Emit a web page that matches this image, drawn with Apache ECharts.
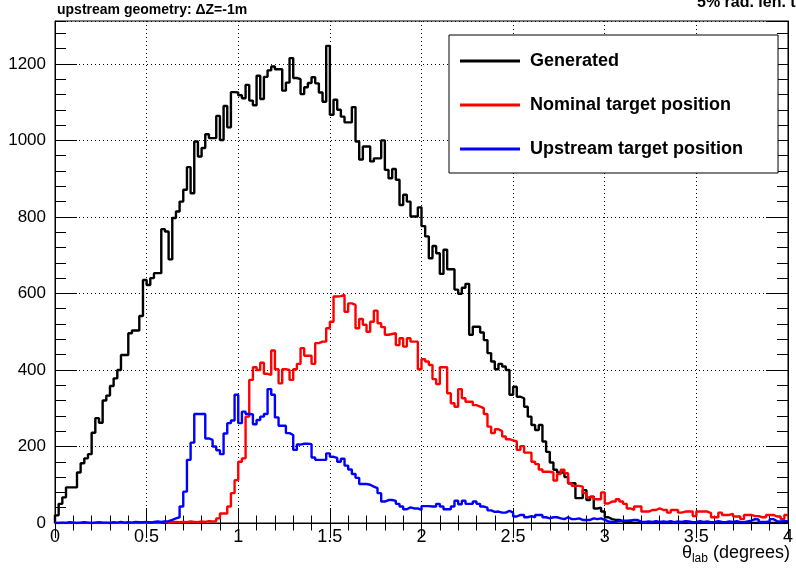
<!DOCTYPE html>
<html>
<head>
<meta charset="utf-8">
<script src="https://cdn.jsdelivr.net/npm/echarts@6/dist/echarts.min.js"></script>
<style>
  html, body { margin: 0; padding: 0; background: #fff; }
  #chart { width: 796px; height: 572px; }
</style>
</head>
<body>
<div id="chart"></div>
<script>
// Histogram binning: 200 bins of width 0.02 degrees over 0..4
const binWidth = 0.02;
const xMin = 0, xMax = 4;

const xTickLabels = ['0', '0.5', '1', '1.5', '2', '2.5', '3', '3.5', '4'];
const yTickLabels = ['0', '200', '400', '600', '800', '1000', '1200'];

const seriesNames = ['Generated', 'Nominal target position', 'Upstream target position'];

// Counts per bin
const generated = [
  20, 50, 67, 93, 93, 93, 132, 156, 169, 180,
  236, 274, 262, 320, 333, 358, 378, 400, 439, 439,
  496, 503, 503, 541, 635, 622, 640, 653, 653, 768,
  762, 689, 797, 814, 840, 871, 930, 862, 997, 958,
  980, 1016, 1006, 1006, 1064, 1001, 1090, 1034, 1126, 1125,
  1118, 1110, 1145, 1104, 1092, 1169, 1108, 1166, 1183, 1193,
  1186, 1186, 1130, 1151, 1215, 1163, 1160, 1121, 1139, 1150,
  1165, 1149, 1125, 1101, 1247, 1067, 1106, 1080, 1062, 1047,
  1047, 1087, 997, 950, 984, 984, 945, 953, 953, 1000,
  923, 901, 925, 897, 831, 858, 840, 801, 801, 825,
  776, 749, 692, 724, 705, 651, 714, 663, 663, 610,
  599, 615, 625, 492, 513, 513, 498, 478, 444, 422,
  402, 416, 409, 400, 335, 356, 330, 326, 304, 278,
  256, 243, 256, 213, 186, 158, 139, 132, 132, 120,
  104, 104, 65, 65, 86, 60, 69, 38, 40, 30,
  15, 10, 8, 8, 4, 3, 2, 0, 1, 0,
  0, 0, 0, 0, 0, 0, 0, 0, 0, 0,
  0, 0, 0, 0, 0, 0, 0, 0, 0, 0,
  0, 0, 0, 0, 0, 0, 0, 0, 0, 0,
  0, 0, 0, 0, 0, 0, 0, 0, 0, 0
];

const nominal = [
  0, 0, 0, 0, 0, 0, 0, 0, 0, 0,
  0, 0, 0, 0, 0, 0, 0, 0, 0, 0,
  0, 0, 0, 1, 0, 2, 1, 0, 2, 3,
  1, 2, 3, 2, 3, 2, 4, 3, 2, 4,
  3, 5, 4, 5, 12, 25, 25, 43, 78, 112,
  160, 169, 278, 374, 407, 400, 419, 390, 387, 451,
  402, 365, 402, 400, 374, 402, 416, 457, 437, 437,
  416, 470, 474, 474, 509, 526, 592, 593, 596, 552,
  574, 570, 509, 533, 518, 500, 526, 555, 522, 512,
  492, 494, 496, 465, 483, 461, 483, 474, 474, 402,
  428, 422, 413, 376, 363, 407, 407, 339, 313, 304,
  350, 326, 317, 317, 308, 304, 300, 285, 252, 235,
  245, 240, 226, 219, 216, 213, 191, 201, 184, 184,
  160, 154, 140, 134, 134, 132, 111, 128, 139, 130,
  104, 97, 97, 95, 78, 67, 69, 62, 62, 80,
  51, 56, 56, 62, 56, 50, 38, 34, 43, 43,
  30, 30, 34, 34, 38, 34, 34, 27, 34, 34,
  27, 30, 30, 30, 18, 30, 30, 30, 26, 15,
  15, 27, 21, 21, 24, 17, 17, 10, 21, 21,
  18, 18, 15, 15, 21, 21, 17, 17, 10, 21
];

const upstream = [
  0, 1, 0, 2, 1, 0, 1, 2, 1, 0,
  1, 2, 1, 1, 0, 2, 1, 3, 1, 2,
  1, 3, 2, 2, 3, 1, 3, 4, 3, 4,
  5, 8, 12, 15, 43, 82, 165, 210, 285, 285,
  285, 221, 217, 200, 190, 180, 234, 261, 268, 335,
  261, 291, 285, 284, 258, 269, 278, 285, 350, 335,
  276, 254, 254, 235, 230, 191, 205, 207, 207, 206,
  171, 165, 165, 165, 182, 173, 170, 160, 168, 150,
  140, 128, 118, 102, 102, 100, 95, 91, 78, 56,
  60, 60, 58, 50, 43, 36, 41, 38, 38, 34,
  44, 44, 43, 43, 50, 43, 36, 36, 43, 58,
  49, 58, 50, 50, 56, 50, 43, 40, 33, 29,
  30, 27, 27, 32, 27, 17, 21, 21, 15, 18,
  15, 21, 21, 15, 12, 15, 15, 12, 10, 15,
  10, 10, 12, 8, 8, 8, 12, 10, 12, 8,
  4, 3, 3, 5, 6, 6, 7, 8, 8, 3,
  3, 4, 3, 5, 3, 4, 3, 5, 2, 4,
  3, 5, 4, 2, 3, 5, 3, 4, 2, 3,
  5, 3, 2, 4, 3, 5, 3, 2, 4, 6,
  10, 9, 3, 3, 4, 10, 5, 4, 5, 5
];

const seriesColors = ['#000000', '#ff0000', '#0000ff'];

// Turn bin contents into a step outline: left edge of each bin, closed at xMax
function histogramOutline(counts) {
  const pts = [[xMin, 0]];
  counts.forEach((c, i) => pts.push([xMin + i * binWidth, c]));
  pts.push([xMax, counts[counts.length - 1]]);
  return pts;
}

const FONT = 'Liberation Sans, Arial, Helvetica, sans-serif';
const yMax = 1312;

const chart = echarts.init(document.getElementById('chart'), null, { renderer: 'canvas' });

const gridLine = { show: true, lineStyle: { color: '#000', width: 1, type: [1, 3] } };
const blackLine = { show: true, lineStyle: { color: '#000', width: 1 } };

chart.setOption({
  animation: false,
  backgroundColor: '#fff',
  grid: { left: 55, right: 5, top: 21, bottom: 49, show: true, borderColor: '#000', borderWidth: 1, backgroundColor: '#fff' },
  legend: {
    left: 449, top: 35,
    orient: 'vertical',
    padding: [17, 35, 15, 11],
    itemGap: 26,
    itemWidth: 60, itemHeight: 3,
    icon: 'rect',
    borderColor: '#000', borderWidth: 1, borderRadius: 0,
    backgroundColor: '#fff',
    textStyle: { fontFamily: FONT, fontSize: 18, fontWeight: 'bold', color: '#000', padding: [0, 0, 0, 5] },
    data: seriesNames
  },
  xAxis: [
    {
      type: 'value', min: xMin, max: xMax, interval: 0.5, position: 'bottom',
      axisLine: blackLine,
      axisTick: { show: true, inside: true, length: 15, lineStyle: { color: '#000' } },
      minorTick: { show: true, splitNumber: 5, length: 7.5, lineStyle: { color: '#000' } },
      axisLabel: {
        fontFamily: FONT, fontSize: 18, color: '#000', margin: 5,
        formatter: (v) => { const i = Math.round(v / 0.5); return xTickLabels[i] ?? ''; }
      },
      splitLine: gridLine
    },
    {
      type: 'value', min: xMin, max: xMax, interval: 0.5, position: 'top',
      axisLine: blackLine,
      axisTick: { show: true, inside: true, length: 15, lineStyle: { color: '#000' } },
      minorTick: { show: true, splitNumber: 5, length: 7.5, lineStyle: { color: '#000' } },
      axisLabel: { show: false },
      splitLine: { show: false }
    }
  ],
  yAxis: [
    {
      type: 'value', min: 0, max: yMax, interval: 200, position: 'left',
      axisLine: blackLine,
      axisTick: { show: true, inside: true, length: 22, lineStyle: { color: '#000' } },
      axisLabel: {
        fontFamily: FONT, fontSize: 17, color: '#000', margin: 9, showMaxLabel: false,
        formatter: (v) => (v % 200 === 0 ? (yTickLabels[v / 200] ?? '') : '')
      },
      splitLine: gridLine
    },
    {
      type: 'value', min: 0, max: yMax, interval: 40, position: 'left',
      axisLine: { show: false },
      axisTick: { show: true, inside: true, length: 11, lineStyle: { color: '#000' } },
      axisLabel: { show: false },
      splitLine: { show: false }
    },
    {
      type: 'value', min: 0, max: yMax, interval: 200, position: 'right',
      axisLine: blackLine,
      axisTick: { show: true, inside: true, length: 22, lineStyle: { color: '#000' } },
      axisLabel: { show: false },
      splitLine: { show: false }
    },
    {
      type: 'value', min: 0, max: yMax, interval: 40, position: 'right',
      axisLine: { show: false },
      axisTick: { show: true, inside: true, length: 11, lineStyle: { color: '#000' } },
      axisLabel: { show: false },
      splitLine: { show: false }
    }
  ],
  series: [generated, nominal, upstream].map((counts, k) => ({
    name: seriesNames[k],
    type: 'line',
    step: 'end',
    xAxisIndex: 0,
    yAxisIndex: 0,
    symbol: 'none',
    color: seriesColors[k],
    lineStyle: { color: seriesColors[k], width: 2.4 },
    data: histogramOutline(counts),
    z: 3 + k
  })),
  graphic: [
    {
      type: 'text', left: 57, top: 3, z: 10,
      style: { text: 'upstream geometry: \u0394Z=-1m', fontFamily: FONT, fontSize: 14, fontWeight: 'bold', fill: '#000' }
    },
    {
      type: 'text', x: 697, y: -5, z: 10,
      style: { text: '5% rad. len. target', fontFamily: FONT, fontSize: 16, fontWeight: 'bold', fill: '#000' }
    },
    {
      type: 'text', x: 790, y: 553, z: 10,
      style: {
        text: '{t|\u03b8}{s|lab}{t| (degrees)}',
        align: 'right', verticalAlign: 'middle',
        fill: '#000',
        rich: {
          t: { fontFamily: FONT, fontSize: 18, fill: '#000' },
          s: { fontFamily: FONT, fontSize: 12, fill: '#000', padding: [12, 0, 0, 0] }
        }
      }
    }
  ]
});
</script>
</body>
</html>
